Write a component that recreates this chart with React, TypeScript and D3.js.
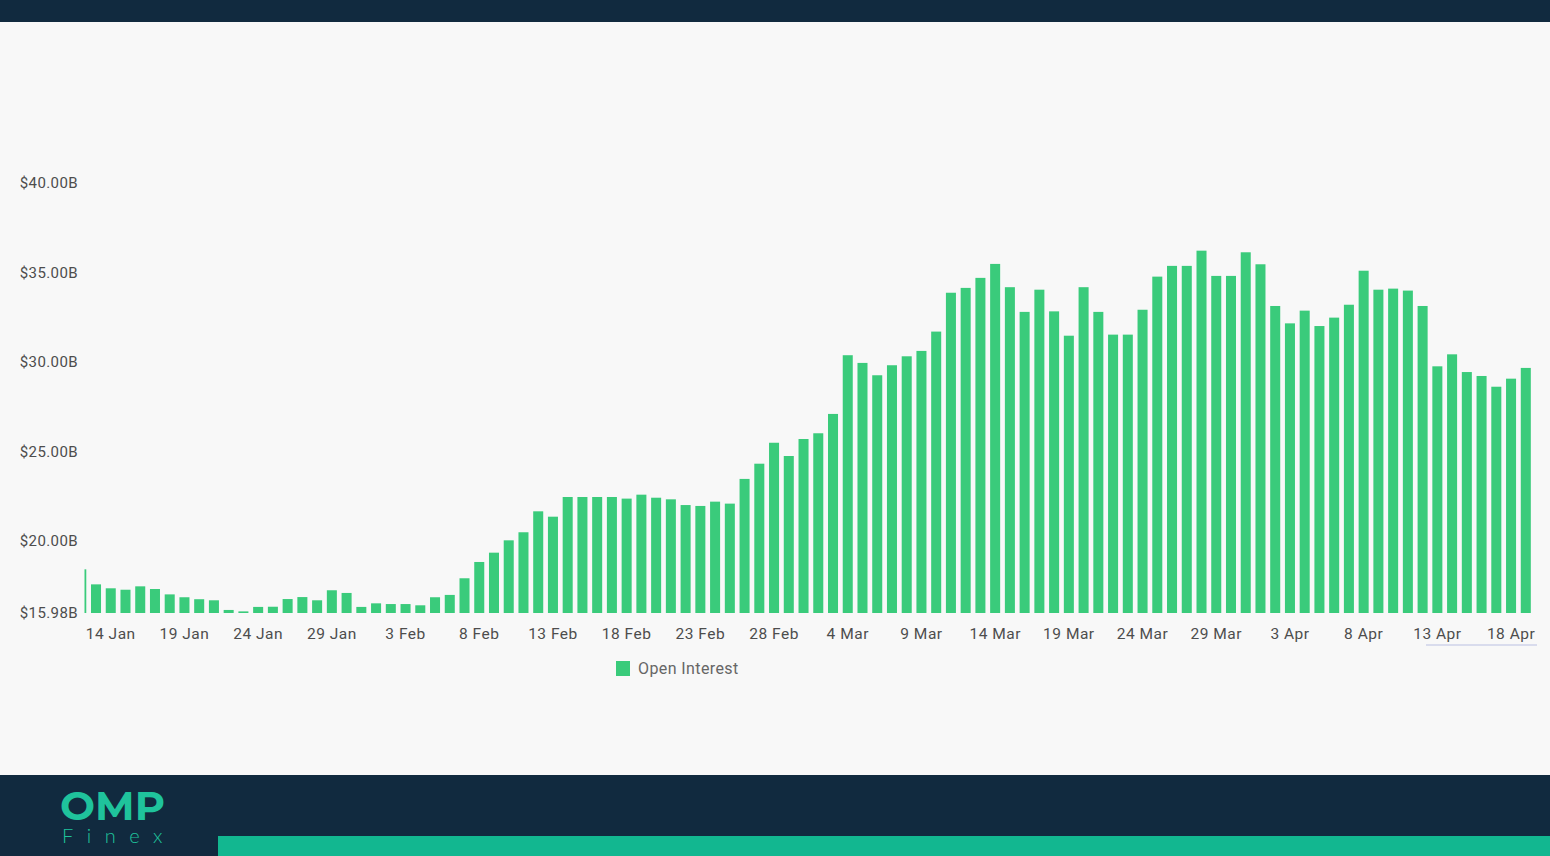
import React, { useEffect, useRef } from 'react'
import * as d3 from 'd3'

// Open interest in $B, one bar per day starting 12 Jan
const startDay = new Date(2024, 0, 12)
const janValues = [18.42, 17.58, 17.36, 17.28, 17.47, 17.32, 17.02, 16.86, 16.75, 16.69, 16.15, 16.07, 16.32, 16.33, 16.76, 16.87, 16.69, 17.25, 17.1, 16.32]
const febValues = [16.52, 16.48, 16.48, 16.41, 16.86, 16.99, 17.92, 18.83, 19.35, 20.04, 20.49, 21.66, 21.36, 22.46, 22.46, 22.46, 22.46, 22.37, 22.59, 22.42, 22.33, 22.01, 21.96, 22.2, 22.09, 23.47, 24.32, 25.49, 24.75]
const marValues = [25.7, 26.02, 27.1, 30.38, 29.95, 29.26, 29.82, 30.32, 30.62, 31.7, 33.87, 34.14, 34.7, 35.48, 34.18, 32.8, 34.04, 32.83, 31.47, 34.18, 32.8, 31.53, 31.53, 32.92, 34.77, 35.37, 35.37, 36.22, 34.81, 34.81, 36.13]
const aprValues = [35.46, 33.13, 32.16, 32.87, 32.01, 32.48, 33.2, 35.1, 34.04, 34.1, 33.99, 33.13, 29.76, 30.43, 29.44, 29.22, 28.62, 29.07, 29.67]

const xTickLabels = ['14 Jan', '19 Jan', '24 Jan', '29 Jan', '3 Feb', '8 Feb', '13 Feb', '18 Feb', '23 Feb', '28 Feb', '4 Mar', '9 Mar', '14 Mar', '19 Mar', '24 Mar', '29 Mar', '3 Apr', '8 Apr', '13 Apr', '18 Apr']
const yTicks = [15.98, 20, 25, 30, 35, 40]
const seriesName = 'Open Interest'

const GREEN = '#3acb7b'
const NAVY = '#112a3f'
const TEAL = '#12b790'
const FONT = 'Roboto, sans-serif'

const App = () => {
  const svg = useRef(null)

  useEffect(() => {
    const values = [...janValues, ...febValues, ...marValues, ...aprValues]
    const fmt = d3.timeFormat('%-d %b')
    const data = values.map((v, i) => ({ day: fmt(d3.timeDay.offset(startDay, i)), value: v }))

    const xScale = d3
      .scaleBand()
      .domain(data.map(d => d.day))
      .range([73.9, 73.9 + 14.74 * data.length])
      .paddingInner(0.32)
      .paddingOuter(0.16)
    const yScale = d3.scaleLinear().domain([15.98, 40]).range([613, 183])

    const s = d3.select(svg.current)
    s.selectAll('*').remove()

    // frame
    s.append('rect').attr('width', 1550).attr('height', 856).attr('fill', '#f8f8f8')
    s.append('rect').attr('width', 1550).attr('height', 22).attr('fill', NAVY)
    s.append('rect').attr('y', 775).attr('width', 1550).attr('height', 81).attr('fill', NAVY)
    s.append('rect').attr('x', 218).attr('y', 836).attr('width', 1332).attr('height', 20).attr('fill', TEAL)

    // logo
    s.append('text')
      .attr('x', 60)
      .attr('y', 820)
      .attr('font-family', 'Montserrat, "DejaVu Sans", sans-serif')
      .attr('font-weight', 700)
      .attr('font-size', 40)
      .attr('textLength', 105)
      .attr('lengthAdjust', 'spacingAndGlyphs')
      .attr('fill', '#1fc39c')
      .text('OMP')
    s.append('text')
      .attr('x', 62)
      .attr('y', 843)
      .attr('font-family', 'Lato, sans-serif')
      .attr('font-weight', 300)
      .attr('font-size', 20)
      .attr('letter-spacing', 13.5)
      .attr('fill', '#1fc39c')
      .text('Finex')

    // bars
    s.append('clipPath').attr('id', 'plot').append('rect').attr('x', 84.5).attr('y', 0).attr('width', 1460).attr('height', 620)
    s.append('g')
      .attr('clip-path', 'url(#plot)')
      .selectAll('rect')
      .data(data)
      .enter()
      .append('rect')
      .attr('x', d => xScale(d.day))
      .attr('y', d => yScale(d.value))
      .attr('width', xScale.bandwidth())
      .attr('height', d => 613 - yScale(d.value))
      .attr('fill', GREEN)

    // x axis
    const xAxis = d3.axisBottom(xScale).tickValues(xTickLabels).tickSize(0).tickPadding(15)
    const gx = s.append('g').attr('transform', 'translate(0, 613)').call(xAxis)
    gx.select('.domain').remove()
    gx.selectAll('text')
      .attr('font-family', FONT)
      .attr('font-size', 15.5)
      .attr('letter-spacing', 0.5)
      .attr('fill', '#4d4d4d')

    // y axis labels
    s.append('g')
      .selectAll('text')
      .data(yTicks)
      .enter()
      .append('text')
      .attr('x', 78)
      .attr('y', d => yScale(d))
      .attr('dy', '0.36em')
      .attr('text-anchor', 'end')
      .attr('font-family', FONT)
      .attr('font-size', 15)
      .attr('letter-spacing', 0.4)
      .attr('fill', '#4d4d4d')
      .text(d => `$${d.toFixed(2)}B`)

    // faint scrollbar line under last labels
    s.append('rect').attr('x', 1426).attr('y', 644).attr('width', 111).attr('height', 2).attr('fill', '#d9dced')

    // legend
    s.append('rect').attr('x', 616).attr('y', 661).attr('width', 14).attr('height', 15).attr('fill', GREEN)
    s.append('text')
      .attr('x', 638)
      .attr('y', 674)
      .attr('font-family', FONT)
      .attr('font-size', 16)
      .attr('letter-spacing', 0.4)
      .attr('fill', '#666')
      .text(seriesName)
  }, [])

  return (
    <svg
      ref={svg}
      width={1550}
      height={856}
      style={{ position: 'absolute', left: 0, top: 0, display: 'block' }}
    ></svg>
  )
}

export default App
